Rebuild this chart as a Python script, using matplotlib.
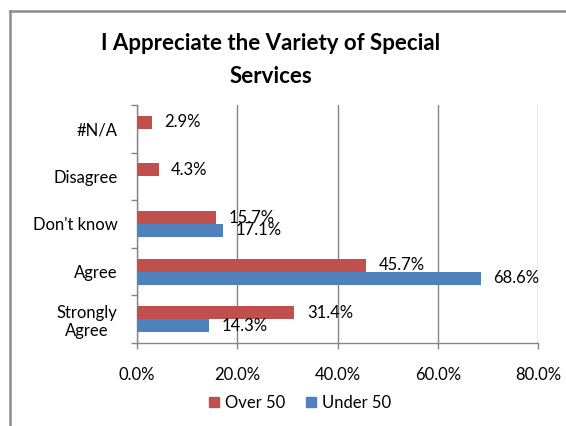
import numpy as np
import matplotlib
matplotlib.use('Agg')
import matplotlib.pyplot as plt
from matplotlib.lines import Line2D
from matplotlib.patches import Patch

plt.rcParams['font.family'] = ['Lato', 'DejaVu Sans']

# data (bottom to top)
categories = ['Strongly\nAgree', 'Agree', "Don't know", 'Disagree', '#N/A']
over_50 = [31.4, 45.7, 15.7, 4.3, 2.9]
under_50 = [14.3, 68.6, 17.1, np.nan, np.nan]
series_names = ['Over 50', 'Under 50']
x_ticks = [0, 20, 40, 60, 80]

red = '#C0504D'
blue = '#4F81BD'
grid_col = '#868686'
fs = 12

W, H = 566, 426
fig = plt.figure(figsize=(W / 100, H / 100), dpi=100)

# outer chart border (left and top visible)
fig.add_artist(Line2D([10 / W, 10 / W], [0, 1 - 11 / H], color='#8c8c8c', lw=1.8))
fig.add_artist(Line2D([10 / W, 1], [1 - 11 / H, 1 - 11 / H], color='#8c8c8c', lw=1.8))

left, right, top, bottom = 137, 538, 105, 343
ax = fig.add_axes([left / W, 1 - bottom / H, (right - left) / W, (bottom - top) / H])

y = np.arange(len(categories))
h = 0.273
ax.barh(y + h / 2, over_50, height=h, color=red, zorder=3)
ax.barh(y - h / 2, under_50, height=h, color=blue, zorder=3)

# data labels
for yi, v in zip(y, over_50):
    if not np.isnan(v):
        ax.annotate(f'{v:.1f}%', (v, yi + h / 2), xytext=(9, 0), textcoords='offset points',
                    va='center', ha='left', fontsize=fs, zorder=4)
for yi, v in zip(y, under_50):
    if not np.isnan(v):
        ax.annotate(f'{v:.1f}%', (v, yi - h / 2), xytext=(9, 0), textcoords='offset points',
                    va='center', ha='left', fontsize=fs, zorder=4)

ax.set_xlim(0, 80)
ax.set_ylim(-0.5, len(categories) - 0.5)
ax.set_xticks(x_ticks)
ax.set_xticklabels([f'{t:.1f}%' for t in x_ticks], fontsize=fs)
ax.tick_params(axis='x', length=4, pad=13, color=grid_col, width=1)
ax.xaxis.grid(True, color=grid_col, lw=1, zorder=0)

ax.set_yticks(np.arange(len(categories) + 1) - 0.5)
ax.set_yticklabels([])
ax.set_yticks(y, minor=True)
ax.set_yticklabels(categories, minor=True, fontsize=fs, multialignment='center')
ax.tick_params(axis='y', which='major', length=4, color=grid_col, width=1)
ax.tick_params(axis='y', which='minor', length=0, pad=14)

for s in ['top', 'right']:
    ax.spines[s].set_visible(False)
for s in ['left', 'bottom']:
    ax.spines[s].set_color(grid_col)
    ax.spines[s].set_linewidth(1)

fig.text(271 / W, 1 - 60 / H, 'I Appreciate the Variety of Special\nServices',
         ha='center', va='center', fontsize=16, fontweight='bold', linespacing=1.65)

handles = [Patch(color=red), Patch(color=blue)]
fig.legend(handles, series_names, loc='center', bbox_to_anchor=(300 / W, 1 - 403 / H),
           ncol=2, frameon=False, fontsize=fs, handlelength=0.6, handleheight=0.6,
           handletextpad=0.4, columnspacing=1.2)

fig.savefig('out.png', dpi=100)
